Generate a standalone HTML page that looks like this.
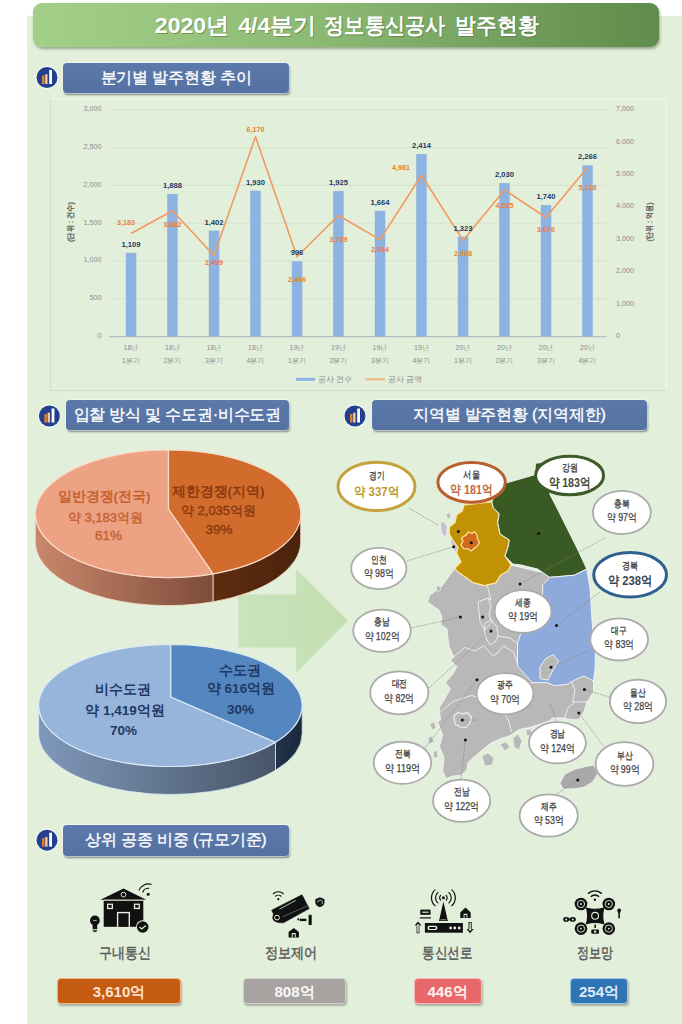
<!DOCTYPE html>
<html><head><meta charset="utf-8">
<style>
*{margin:0;padding:0;box-sizing:border-box}
html,body{width:682px;height:1024px;overflow:hidden;background:#fff;font-family:"Liberation Sans", sans-serif}
.abs{position:absolute}
#panel{left:27px;top:16px;width:655px;height:1008px;background:#E2EFDA}
#title{left:33px;top:3px;width:626px;height:44px;border-radius:9px;
 background:linear-gradient(to right,#A4CF88 0%,#8DBA73 45%,#5F8B4C 100%);
 box-shadow:1px 2px 3px rgba(60,80,50,0.45);color:#fff;font-weight:bold;font-size:22px;
 text-align:center;line-height:44px;letter-spacing:-0.3px;padding-right:3px;text-shadow:1px 1px 1px rgba(40,60,30,0.45)}
.hdr{position:absolute;height:30px;border-radius:4px;
 background:linear-gradient(to bottom,#5B79AA,#5471A2);box-shadow:0 0 0 1px rgba(255,255,255,0.45),1px 2px 2px rgba(30,40,60,0.5);
 color:#FFFFFF;font-size:16px;text-align:center;line-height:30px;letter-spacing:-0.2px;-webkit-text-stroke:0.35px #fff}
.lbl{position:absolute;top:944px;width:120px;text-align:center;font-size:14.5px;color:#595959;line-height:18px;letter-spacing:-1.6px;font-weight:bold}
.box{position:absolute;top:978px;height:26px;border-radius:4px;text-align:center;line-height:26px;
 font-size:15px;font-weight:bold;box-shadow:1px 2px 2px rgba(60,60,60,0.35)}
svg{position:absolute;left:0;top:0}
</style></head><body>
<div id="panel" class="abs"></div>
<div id="title" class="abs"></div>
<div class="hdr" style="left:63px;top:63px;width:226px;height:30.4px">분기별 발주현황 추이</div>
<div class="hdr" style="left:66px;top:400px;width:222.6px">입찰 방식 및 수도권·비수도권</div>
<div class="hdr" style="left:371.5px;top:400.2px;width:275.5px">지역별 발주현황 (지역제한)</div>
<div class="hdr" style="left:63.2px;top:825px;width:225.5px;height:30.5px;line-height:30.5px">상위 공종 비중 (규모기준)</div>
<svg width="682" height="1024" viewBox="0 0 682 1024" font-family='"Liberation Sans", sans-serif'>
<g transform="translate(47,77.5)"><circle r="11.5" fill="#fff" opacity="0.7"/><circle r="10.5" fill="#23408E"/><rect x="-5" y="-2" width="2.5" height="8.5" fill="#D9822B"/><rect x="-1.8" y="-3.3" width="2.3" height="9.8" fill="#F7CBA5"/><rect x="2.2" y="-7.5" width="2.8" height="14" fill="#FFFFFF"/></g><g transform="translate(49.4,416)"><circle r="11.5" fill="#fff" opacity="0.7"/><circle r="10.5" fill="#23408E"/><rect x="-5" y="-2" width="2.5" height="8.5" fill="#D9822B"/><rect x="-1.8" y="-3.3" width="2.3" height="9.8" fill="#F7CBA5"/><rect x="2.2" y="-7.5" width="2.8" height="14" fill="#FFFFFF"/></g><g transform="translate(355,416)"><circle r="11.5" fill="#fff" opacity="0.7"/><circle r="10.5" fill="#23408E"/><rect x="-5" y="-2" width="2.5" height="8.5" fill="#D9822B"/><rect x="-1.8" y="-3.3" width="2.3" height="9.8" fill="#F7CBA5"/><rect x="2.2" y="-7.5" width="2.8" height="14" fill="#FFFFFF"/></g><g transform="translate(47,840.2)"><circle r="11.5" fill="#fff" opacity="0.7"/><circle r="10.5" fill="#23408E"/><rect x="-5" y="-2" width="2.5" height="8.5" fill="#D9822B"/><rect x="-1.8" y="-3.3" width="2.3" height="9.8" fill="#F7CBA5"/><rect x="2.2" y="-7.5" width="2.8" height="14" fill="#FFFFFF"/></g>
<path d="M50.5,99 H666 V390.5" fill="none" stroke="#EEF5E9" stroke-width="1.6"/><path d="M50.5,99 V390.5 H666" fill="none" stroke="#D5DECD" stroke-width="1.2"/>
<line x1="109" y1="298.8" x2="607" y2="298.8" stroke="#D6E2CC" stroke-width="1"/>
<line x1="109" y1="261.0" x2="607" y2="261.0" stroke="#D6E2CC" stroke-width="1"/>
<line x1="109" y1="223.2" x2="607" y2="223.2" stroke="#D6E2CC" stroke-width="1"/>
<line x1="109" y1="185.4" x2="607" y2="185.4" stroke="#D6E2CC" stroke-width="1"/>
<line x1="109" y1="147.6" x2="607" y2="147.6" stroke="#D6E2CC" stroke-width="1"/>
<line x1="109" y1="109.8" x2="607" y2="109.8" stroke="#D6E2CC" stroke-width="1"/>
<line x1="109" y1="336.6" x2="607" y2="336.6" stroke="#BDBDBD" stroke-width="1.2"/>
<text x="101.5" y="337.9" text-anchor="end" font-size="7.2" fill="#8C8C8C">0</text>
<text x="101.5" y="300.1" text-anchor="end" font-size="7.2" fill="#8C8C8C">500</text>
<text x="101.5" y="262.3" text-anchor="end" font-size="7.2" fill="#8C8C8C">1,000</text>
<text x="101.5" y="224.5" text-anchor="end" font-size="7.2" fill="#8C8C8C">1,500</text>
<text x="101.5" y="186.7" text-anchor="end" font-size="7.2" fill="#8C8C8C">2,000</text>
<text x="101.5" y="148.9" text-anchor="end" font-size="7.2" fill="#8C8C8C">2,500</text>
<text x="101.5" y="111.1" text-anchor="end" font-size="7.2" fill="#8C8C8C">3,000</text>
<text x="616" y="337.9" font-size="7.2" fill="#8C8C8C">0</text>
<text x="616" y="305.5" font-size="7.2" fill="#8C8C8C">1,000</text>
<text x="616" y="273.1" font-size="7.2" fill="#8C8C8C">2,000</text>
<text x="616" y="240.7" font-size="7.2" fill="#8C8C8C">3,000</text>
<text x="616" y="208.3" font-size="7.2" fill="#8C8C8C">4,000</text>
<text x="616" y="175.9" font-size="7.2" fill="#8C8C8C">5,000</text>
<text x="616" y="143.5" font-size="7.2" fill="#8C8C8C">6,000</text>
<text x="616" y="111.1" font-size="7.2" fill="#8C8C8C">7,000</text>
<rect x="125.8" y="252.8" width="10.5" height="83.8" fill="#8DB3E2"/>
<rect x="167.2" y="193.9" width="10.5" height="142.7" fill="#8DB3E2"/>
<rect x="208.8" y="230.6" width="10.5" height="106.0" fill="#8DB3E2"/>
<rect x="250.2" y="190.7" width="10.5" height="145.9" fill="#8DB3E2"/>
<rect x="291.8" y="261.3" width="10.5" height="75.3" fill="#8DB3E2"/>
<rect x="333.2" y="191.1" width="10.5" height="145.5" fill="#8DB3E2"/>
<rect x="374.8" y="210.8" width="10.5" height="125.8" fill="#8DB3E2"/>
<rect x="416.2" y="154.1" width="10.5" height="182.5" fill="#8DB3E2"/>
<rect x="457.8" y="236.6" width="10.5" height="100.0" fill="#8DB3E2"/>
<rect x="499.2" y="183.1" width="10.5" height="153.5" fill="#8DB3E2"/>
<rect x="540.8" y="205.1" width="10.5" height="131.5" fill="#8DB3E2"/>
<rect x="582.2" y="165.3" width="10.5" height="171.3" fill="#8DB3E2"/>
<polyline points="131.0,233.5 172.5,210.8 214.0,255.6 255.5,136.7 297.0,256.7 338.5,215.5 380.0,239.6 421.5,175.2 463.0,240.4 504.5,190.0 546.0,217.5 587.5,167.5" fill="none" stroke="#F29A60" stroke-width="1.6" stroke-linejoin="round"/>
<text x="131.0" y="246.8" text-anchor="middle" font-size="7.6" font-weight="bold" fill="#1F3864">1,109</text>
<text x="172.5" y="187.9" text-anchor="middle" font-size="7.6" font-weight="bold" fill="#1F3864">1,888</text>
<text x="214.0" y="224.6" text-anchor="middle" font-size="7.6" font-weight="bold" fill="#1F3864">1,402</text>
<text x="255.5" y="184.7" text-anchor="middle" font-size="7.6" font-weight="bold" fill="#1F3864">1,930</text>
<text x="297.0" y="255.3" text-anchor="middle" font-size="7.6" font-weight="bold" fill="#1F3864">996</text>
<text x="338.5" y="185.1" text-anchor="middle" font-size="7.6" font-weight="bold" fill="#1F3864">1,925</text>
<text x="380.0" y="204.8" text-anchor="middle" font-size="7.6" font-weight="bold" fill="#1F3864">1,664</text>
<text x="421.5" y="148.1" text-anchor="middle" font-size="7.6" font-weight="bold" fill="#1F3864">2,414</text>
<text x="463.0" y="230.6" text-anchor="middle" font-size="7.6" font-weight="bold" fill="#1F3864">1,323</text>
<text x="504.5" y="177.1" text-anchor="middle" font-size="7.6" font-weight="bold" fill="#1F3864">2,030</text>
<text x="546.0" y="199.1" text-anchor="middle" font-size="7.6" font-weight="bold" fill="#1F3864">1,740</text>
<text x="587.5" y="159.3" text-anchor="middle" font-size="7.6" font-weight="bold" fill="#1F3864">2,266</text>
<text x="126.0" y="224.5" text-anchor="middle" font-size="7.2" font-weight="bold" fill="#ED7D31">3,183</text>
<text x="172.5" y="226.8" text-anchor="middle" font-size="7.2" font-weight="bold" fill="#ED7D31">3,882</text>
<text x="214.0" y="264.6" text-anchor="middle" font-size="7.2" font-weight="bold" fill="#ED7D31">2,499</text>
<text x="255.5" y="131.7" text-anchor="middle" font-size="7.2" font-weight="bold" fill="#ED7D31">6,170</text>
<text x="297.0" y="281.7" text-anchor="middle" font-size="7.2" font-weight="bold" fill="#ED7D31">2,466</text>
<text x="338.5" y="242.0" text-anchor="middle" font-size="7.2" font-weight="bold" fill="#ED7D31">3,739</text>
<text x="380.0" y="251.6" text-anchor="middle" font-size="7.2" font-weight="bold" fill="#ED7D31">2,994</text>
<text x="401.0" y="169.6" text-anchor="middle" font-size="7.2" font-weight="bold" fill="#ED7D31">4,981</text>
<text x="463.0" y="256.4" text-anchor="middle" font-size="7.2" font-weight="bold" fill="#ED7D31">2,968</text>
<text x="504.5" y="208.0" text-anchor="middle" font-size="7.2" font-weight="bold" fill="#ED7D31">4,525</text>
<text x="546.0" y="231.5" text-anchor="middle" font-size="7.2" font-weight="bold" fill="#ED7D31">3,676</text>
<text x="587.5" y="189.5" text-anchor="middle" font-size="7.2" font-weight="bold" fill="#ED7D31">5,218</text>
<text x="131.0" y="350.2" text-anchor="middle" font-size="7" fill="#8C8C8C">18년</text>
<text x="131.0" y="363" text-anchor="middle" font-size="7" fill="#8C8C8C">1분기</text>
<text x="172.5" y="350.2" text-anchor="middle" font-size="7" fill="#8C8C8C">18년</text>
<text x="172.5" y="363" text-anchor="middle" font-size="7" fill="#8C8C8C">2분기</text>
<text x="214.0" y="350.2" text-anchor="middle" font-size="7" fill="#8C8C8C">18년</text>
<text x="214.0" y="363" text-anchor="middle" font-size="7" fill="#8C8C8C">3분기</text>
<text x="255.5" y="350.2" text-anchor="middle" font-size="7" fill="#8C8C8C">18년</text>
<text x="255.5" y="363" text-anchor="middle" font-size="7" fill="#8C8C8C">4분기</text>
<text x="297.0" y="350.2" text-anchor="middle" font-size="7" fill="#8C8C8C">19년</text>
<text x="297.0" y="363" text-anchor="middle" font-size="7" fill="#8C8C8C">1분기</text>
<text x="338.5" y="350.2" text-anchor="middle" font-size="7" fill="#8C8C8C">19년</text>
<text x="338.5" y="363" text-anchor="middle" font-size="7" fill="#8C8C8C">2분기</text>
<text x="380.0" y="350.2" text-anchor="middle" font-size="7" fill="#8C8C8C">19년</text>
<text x="380.0" y="363" text-anchor="middle" font-size="7" fill="#8C8C8C">3분기</text>
<text x="421.5" y="350.2" text-anchor="middle" font-size="7" fill="#8C8C8C">19년</text>
<text x="421.5" y="363" text-anchor="middle" font-size="7" fill="#8C8C8C">4분기</text>
<text x="463.0" y="350.2" text-anchor="middle" font-size="7" fill="#8C8C8C">20년</text>
<text x="463.0" y="363" text-anchor="middle" font-size="7" fill="#8C8C8C">1분기</text>
<text x="504.5" y="350.2" text-anchor="middle" font-size="7" fill="#8C8C8C">20년</text>
<text x="504.5" y="363" text-anchor="middle" font-size="7" fill="#8C8C8C">2분기</text>
<text x="546.0" y="350.2" text-anchor="middle" font-size="7" fill="#8C8C8C">20년</text>
<text x="546.0" y="363" text-anchor="middle" font-size="7" fill="#8C8C8C">3분기</text>
<text x="587.5" y="350.2" text-anchor="middle" font-size="7" fill="#8C8C8C">20년</text>
<text x="587.5" y="363" text-anchor="middle" font-size="7" fill="#8C8C8C">4분기</text>
<line x1="296" y1="379.3" x2="315" y2="379.3" stroke="#8DB3E2" stroke-width="3"/>
<text x="318" y="382" font-size="7.5" fill="#8C8C8C">공사 건수</text>
<line x1="365.5" y1="379.3" x2="385" y2="379.3" stroke="#F4B183" stroke-width="2"/>
<text x="388" y="382" font-size="7.5" fill="#8C8C8C">공사 금액</text>
<text transform="translate(72.8,222) rotate(-90)" text-anchor="middle" font-size="8" fill="#555" stroke="#555" stroke-width="0.3" textLength="40" lengthAdjust="spacingAndGlyphs">(단위 : 건수)</text>
<text transform="translate(651.5,222) rotate(-90)" text-anchor="middle" font-size="8" fill="#555" stroke="#555" stroke-width="0.3" textLength="39" lengthAdjust="spacingAndGlyphs">(단위 : 억원)</text>
<defs><linearGradient id="arw" x1="0" x2="1"><stop offset="0" stop-color="#C9E3BA"/><stop offset="1" stop-color="#C3DFB1"/></linearGradient></defs><polygon points="238.3,594.6 296.2,594.6 296.2,568.8 347.9,620.6 296.2,673 296.2,647.4 238.3,647.4" fill="url(#arw)"/>
<defs><linearGradient id="p1l" x1="0" x2="1" y1="0" y2="0"><stop offset="0" stop-color="#C9876C"/><stop offset="1" stop-color="#7E4C3A"/></linearGradient><linearGradient id="p1d" x1="0" x2="1" y1="0" y2="0"><stop offset="0" stop-color="#5E2D10"/><stop offset="1" stop-color="#4A230C"/></linearGradient></defs>
<path d="M35.30000000000001,513.8 A132.7,63.8 0 0 0 213.2,573.8 L213.2,601.8 A132.7,63.8 0 0 1 35.30000000000001,541.8 Z" fill="url(#p1l)" stroke="#F8DCC8" stroke-width="0.8"/>
<path d="M213.2,573.8 A132.7,63.8 0 0 0 300.7,513.8 L300.7,541.8 A132.7,63.8 0 0 1 213.2,601.8 Z" fill="url(#p1d)" stroke="#F8DCC8" stroke-width="0.8"/>
<path d="M168.5,509 L168.5,450.00 A132.7,63.8 0 1 0 213.2,573.8 Z" fill="#EDA284" stroke="#F8DCC8" stroke-width="1.2" stroke-linejoin="round"/>
<path d="M168.5,509 L168.5,450.00 A132.7,63.8 0 0 1 213.2,573.8 Z" fill="#D26C2C" stroke="#F8DCC8" stroke-width="1.2" stroke-linejoin="round"/>
<defs><linearGradient id="p2l" x1="0" x2="1" y1="0" y2="0"><stop offset="0" stop-color="#7F98BA"/><stop offset="1" stop-color="#475568"/></linearGradient><linearGradient id="p2d" x1="0" x2="1" y1="0" y2="0"><stop offset="0" stop-color="#22344C"/><stop offset="1" stop-color="#1A2839"/></linearGradient></defs>
<path d="M38.599999999999994,705.5 A131.8,61 0 0 0 275.5,742.3 L275.5,770.3 A131.8,61 0 0 1 38.599999999999994,733.5 Z" fill="url(#p2l)" stroke="#DCEAF7" stroke-width="0.8"/>
<path d="M275.5,742.3 A131.8,61 0 0 0 302.20000000000005,705.5 L302.20000000000005,733.5 A131.8,61 0 0 1 275.5,770.3 Z" fill="url(#p2d)" stroke="#DCEAF7" stroke-width="0.8"/>
<path d="M170.8,697 L170.8,644.50 A131.8,61 0 1 0 275.5,742.3 Z" fill="#97B5DA" stroke="#DCEAF7" stroke-width="1.2" stroke-linejoin="round"/>
<path d="M170.8,697 L170.8,644.50 A131.8,61 0 0 1 275.5,742.3 Z" fill="#5487BF" stroke="#DCEAF7" stroke-width="1.2" stroke-linejoin="round"/>
<text x="104" y="501" text-anchor="middle" font-size="13.5" fill="#C4612F" font-weight="bold">일반경쟁(전국)</text>
<text x="105.5" y="522" text-anchor="middle" font-size="13" fill="#C4612F" stroke="#C4612F" stroke-width="0.4">약 3,183억원</text>
<text x="108.5" y="540" text-anchor="middle" font-size="13.5" fill="#C4612F" stroke="#C4612F" stroke-width="0.4">61%</text>
<text x="218" y="496" text-anchor="middle" font-size="13.5" fill="#8A3A10" font-weight="bold">제한경쟁(지역)</text>
<text x="218.5" y="514.5" text-anchor="middle" font-size="13" fill="#8A3A10" stroke="#8A3A10" stroke-width="0.4">약 2,035억원</text>
<text x="219" y="534" text-anchor="middle" font-size="13.5" fill="#8A3A10" stroke="#8A3A10" stroke-width="0.4">39%</text>
<text x="122.5" y="694" text-anchor="middle" font-size="13.5" fill="#1F3864" font-weight="bold">비수도권</text>
<text x="125" y="714.8" text-anchor="middle" font-size="13.5" fill="#1F3864" font-weight="bold">약 1,419억원</text>
<text x="123.5" y="735" text-anchor="middle" font-size="13.5" fill="#1F3864" font-weight="bold">70%</text>
<text x="240.2" y="674.8" text-anchor="middle" font-size="13.5" fill="#1F3864" font-weight="bold">수도권</text>
<text x="241" y="693.2" text-anchor="middle" font-size="13.5" fill="#1F3864" font-weight="bold">약 616억원</text>
<text x="240.5" y="713.8" text-anchor="middle" font-size="13.5" fill="#1F3864" font-weight="bold">30%</text>
<polygon points="455,568 447,579 442,586 429.4,595.5 427.7,602 434,606.8 439,610 442,618 440.6,624.5 447,629 448.7,645.5 453.5,656.8 450.3,660 456.8,666.5 453.5,673 445.5,682.6 450.3,689 444,700 439,708 440.6,719.7 437.7,722 442.6,735 439.4,746.5 444,757.7 442.6,770.6 445.8,778.7 453,776 460.3,775.5 466.8,770.6 468,762.6 474,757 481,751 491,743 500,739 509.7,735.8 519.4,729.4 529,727.7 548.4,721.3 553,718 564.5,718 571,719.7 579,719.7 583.9,711.6 587,702 593.5,692 593.5,681 595.5,652 592.7,629.7 590,588 588,572 561.4,577.4 529.4,569.4 511,565 508,571 500.6,575 496,582.6 484.5,585.6 472.8,582.6 462.5,575 456.7,571" fill="#B8B8B8" stroke="#F2F2F2" stroke-width="1" stroke-linejoin="round"/>
<polygon points="440,522.5 444,521.5 447,526 447,533 445,537.2 441.5,533" fill="#C4C4D0" stroke="#F2F2F2" stroke-width="0.8" stroke-linejoin="round"/>
<polygon points="451,537.5 455,537.5 458.5,542 458.5,550 457,553.7 453,549 450.5,543" fill="#C4C4D0" stroke="#F2F2F2" stroke-width="0.8" stroke-linejoin="round"/>
<polygon points="464,505 491.8,502 493.3,507.9 499.2,513.7 497.7,522.5 500,534 509.4,540 508,547.4 505,556 511,565 508,571 500.6,575 496,582.6 484.5,585.6 472.8,582.6 462.5,575 456.7,571 455,568 461,562 456.7,553 458,547.4 453.7,541.6 449.3,534 449.3,527 455,522.5 456.7,515 462.5,510.8" fill="#C19106" stroke="#FFE699" stroke-width="1.2" stroke-linejoin="round"/>
<polygon points="491.8,502 500,484 506.7,482.8 534.7,474.7 535.4,463.3 545,462 552,482 549.8,494 558,510 568,530 578,550 586.8,569 574.4,575.2 562,576.3 549.8,577.3 537.5,569 521,565 512.8,564 505,556 508,547.4 509.4,540 500,534 497.7,522.5 499.2,513.7 493.3,507.9" fill="#395A22" stroke="#F2F2F2" stroke-width="1" stroke-linejoin="round"/>
<polygon points="542.6,585 549.8,577.3 562,576.3 574.4,575.2 586.8,569 590,588 592.7,629.7 595.5,652 595,670 593.5,681 583.9,676 575.8,679.4 567.7,684.2 554.8,685.8 546.8,682.6 532.3,682.6 517.5,666 517.5,643.6 520.3,635 531.5,615.7 539.8,607 542.6,593.4" fill="#8EAADB" stroke="#F2F2F2" stroke-width="1" stroke-linejoin="round"/>
<polygon points="540,666.7 545.4,658.7 553.4,654.7 558.7,661.4 553.4,669.4 548,680 540,678.7" fill="#B8B8B8" stroke="#F2F2F2" stroke-width="1" stroke-linejoin="round"/>
<polygon points="466,535 468.5,532 472,533.5 474.5,531.5 477,535 477.5,539 479.5,542.5 477.5,546 474,548.5 471,551 467.5,548.5 464,549 461,545 463,541 461.5,538" fill="#D2691E" stroke="#FFE699" stroke-width="1.2" stroke-linejoin="round"/>
<polygon points="560,783 564.8,774.2 574.5,769.4 587.4,766.1 593.9,765.5 597.9,773.5 592.3,782.3 584.2,787.1 574.5,788.7 563.2,789" fill="#A9A9A9" stroke="#F2F2F2" stroke-width="0.8" stroke-linejoin="round"/>
<polygon points="482,756 488,753 494,758 492,765 485,766" fill="#B8B8B8" stroke="#F2F2F2" stroke-width="0.6" stroke-linejoin="round"/>
<polygon points="500,744 506,742 510,747 505,751" fill="#B8B8B8" stroke="#F2F2F2" stroke-width="0.6" stroke-linejoin="round"/>
<polygon points="513,738 518,734 522,741 519,750 514,747" fill="#B8B8B8" stroke="#F2F2F2" stroke-width="0.6" stroke-linejoin="round"/>
<polygon points="430,724 434,722 436,728 432,730" fill="#B8B8B8" stroke="#F2F2F2" stroke-width="0.6" stroke-linejoin="round"/>
<polygon points="428,738 432,736 434,742 429,744" fill="#B8B8B8" stroke="#F2F2F2" stroke-width="0.6" stroke-linejoin="round"/>
<polygon points="433,752 437,750 438,757 434,758" fill="#B8B8B8" stroke="#F2F2F2" stroke-width="0.6" stroke-linejoin="round"/>
<polygon points="436,588 439,585 441,590 438,592" fill="#B8B8B8" stroke="#F2F2F2" stroke-width="0.6" stroke-linejoin="round"/>
<polygon points="446,515 449,512 451,517 448,519" fill="#B8B8B8" stroke="#F2F2F2" stroke-width="0.6" stroke-linejoin="round"/>
<polygon points="526,730 531,729 532,735 527,736" fill="#B8B8B8" stroke="#F2F2F2" stroke-width="0.6" stroke-linejoin="round"/>
<polyline points="450.6,659.7 464.6,647.4 475.2,651 484,645.7 492.8,656.2 498,652.7 503.3,645.7 514,652.7 517.5,664" fill="none" stroke="#F2F2F2" stroke-width="0.9" stroke-linejoin="round"/>
<polyline points="437.7,714 453,701.6 471.6,695.4 490,702 502,710.8 508.5,720 511.6,732" fill="none" stroke="#F2F2F2" stroke-width="0.9" stroke-linejoin="round"/>
<polyline points="502,710.8 510,695 517.8,683 533,683" fill="none" stroke="#F2F2F2" stroke-width="0.9" stroke-linejoin="round"/>
<polyline points="487.5,586 491,600 488,598 478,602 480,622 485,630 492,622 489,615 491,606 488,598" fill="none" stroke="#F2F2F2" stroke-width="0.9" stroke-linejoin="round"/>
<polyline points="498,636 510,638 517.5,643.6" fill="none" stroke="#F2F2F2" stroke-width="0.9" stroke-linejoin="round"/>
<polyline points="571,681 575,690 572.6,702 587,702" fill="none" stroke="#F2F2F2" stroke-width="0.9" stroke-linejoin="round"/>
<polyline points="564.5,718 568,708 575,702" fill="none" stroke="#F2F2F2" stroke-width="0.9" stroke-linejoin="round"/>
<polyline points="454,716 458,712.5 463,714 467,712.5 471.5,717 470,723 466,727.5 460,727 455,724 454,716" fill="none" stroke="#F2F2F2" stroke-width="1.1" stroke-linejoin="round"/>
<polyline points="485,623 491,620 497,627 498,636 495,642 490,645 486,638 484,630 485,623" fill="none" stroke="#F2F2F2" stroke-width="0.9" stroke-linejoin="round"/>
<line x1="409" y1="508" x2="438.7" y2="525.5" stroke="#7F7F7F" stroke-width="0.7" stroke-dasharray="1.5,1.2"/>
<line x1="407" y1="561" x2="453.7" y2="546.7" stroke="#7F7F7F" stroke-width="0.7" stroke-dasharray="1.5,1.2"/>
<line x1="605" y1="538" x2="520" y2="584" stroke="#7F7F7F" stroke-width="0.7" stroke-dasharray="1.5,1.2"/>
<line x1="600" y1="592" x2="556.5" y2="625.5" stroke="#7F7F7F" stroke-width="0.7" stroke-dasharray="1.5,1.2"/>
<line x1="411" y1="628" x2="460.4" y2="617" stroke="#7F7F7F" stroke-width="0.7" stroke-dasharray="1.5,1.2"/>
<line x1="429" y1="688" x2="491" y2="631" stroke="#7F7F7F" stroke-width="0.7" stroke-dasharray="1.5,1.2"/>
<line x1="425" y1="748" x2="477" y2="680" stroke="#7F7F7F" stroke-width="0.7" stroke-dasharray="1.5,1.2"/>
<line x1="461" y1="779" x2="465.4" y2="740" stroke="#7F7F7F" stroke-width="0.7" stroke-dasharray="1.5,1.2"/>
<line x1="590" y1="650" x2="551" y2="667.3" stroke="#7F7F7F" stroke-width="0.7" stroke-dasharray="1.5,1.2"/>
<line x1="609" y1="697" x2="584.4" y2="689.6" stroke="#7F7F7F" stroke-width="0.7" stroke-dasharray="1.5,1.2"/>
<line x1="605" y1="748" x2="578.8" y2="713" stroke="#7F7F7F" stroke-width="0.7" stroke-dasharray="1.5,1.2"/>
<line x1="557" y1="723" x2="550" y2="704" stroke="#7F7F7F" stroke-width="0.7" stroke-dasharray="1.5,1.2"/>
<line x1="555" y1="795" x2="577.8" y2="780" stroke="#7F7F7F" stroke-width="0.7" stroke-dasharray="1.5,1.2"/>
<line x1="476" y1="720" x2="462.3" y2="720" stroke="#7F7F7F" stroke-width="0.7" stroke-dasharray="1.5,1.2"/>
<circle cx="458.4" cy="531.6" r="1.5" fill="#111"/>
<circle cx="471.3" cy="542.8" r="1.5" fill="#111"/>
<circle cx="453.7" cy="546.7" r="1.5" fill="#111"/>
<circle cx="538.7" cy="533.4" r="1.5" fill="#111"/>
<circle cx="520" cy="584" r="1.5" fill="#111"/>
<circle cx="556.5" cy="625.5" r="1.5" fill="#111"/>
<circle cx="460.4" cy="617" r="1.5" fill="#111"/>
<circle cx="482.7" cy="617" r="1.5" fill="#111"/>
<circle cx="491" cy="631" r="1.5" fill="#111"/>
<circle cx="551" cy="667.3" r="1.5" fill="#111"/>
<circle cx="477" cy="679.8" r="1.5" fill="#111"/>
<circle cx="584.4" cy="689.6" r="1.5" fill="#111"/>
<circle cx="578.8" cy="713" r="1.5" fill="#111"/>
<circle cx="462.3" cy="720" r="1.5" fill="#111"/>
<circle cx="465.4" cy="740" r="1.5" fill="#111"/>
<circle cx="577.8" cy="780" r="1.5" fill="#111"/>
<ellipse cx="376.5" cy="486.4" rx="38.5" ry="24.2" fill="#FFFFFF" stroke="#C5A23C" stroke-width="3"/>
<text x="376.5" y="478.9" text-anchor="middle" font-size="9.5" font-weight="bold" fill="#4A4A4A" textLength="15.5" lengthAdjust="spacingAndGlyphs">경기</text>
<text x="376.5" y="496.2" text-anchor="middle" font-size="13" font-weight="bold" fill="#BF9B30" textLength="45" lengthAdjust="spacingAndGlyphs">약 337억</text>
<ellipse cx="471.6" cy="482.3" rx="33.7" ry="19.9" fill="#FFFFFF" stroke="#B95E2E" stroke-width="3"/>
<text x="471.6" y="477.7" text-anchor="middle" font-size="9.5" font-weight="bold" fill="#4A4A4A" textLength="16.5" lengthAdjust="spacingAndGlyphs">서울</text>
<text x="471.6" y="494.4" text-anchor="middle" font-size="13" font-weight="bold" fill="#C06A42" textLength="42.5" lengthAdjust="spacingAndGlyphs">약 181억</text>
<ellipse cx="569.6" cy="475.5" rx="34.0" ry="19.3" fill="#FFFFFF" stroke="#3D5A2A" stroke-width="3"/>
<text x="569.6" y="471.2" text-anchor="middle" font-size="9.5" font-weight="bold" fill="#4A4A4A" textLength="16" lengthAdjust="spacingAndGlyphs">강원</text>
<text x="569.6" y="487.1" text-anchor="middle" font-size="13" font-weight="bold" fill="#3F4A38" textLength="42" lengthAdjust="spacingAndGlyphs">약 183억</text>
<ellipse cx="630.1" cy="574.8" rx="36.4" ry="22.2" fill="#FFFFFF" stroke="#2F5F90" stroke-width="3"/>
<text x="630.1" y="568.6" text-anchor="middle" font-size="9.5" font-weight="bold" fill="#4A4A4A" textLength="16" lengthAdjust="spacingAndGlyphs">경북</text>
<text x="630.1" y="585.2" text-anchor="middle" font-size="13" font-weight="bold" fill="#394758" textLength="44.5" lengthAdjust="spacingAndGlyphs">약 238억</text>
<ellipse cx="621.85" cy="512.5" rx="28.900000000000002" ry="21.6" fill="#FFFFFF" stroke="#ABABAB" stroke-width="1.8"/>
<text x="621.85" y="507.1" text-anchor="middle" font-size="9.5" font-weight="bold" fill="#4A4A4A" textLength="15.5" lengthAdjust="spacingAndGlyphs">충북</text>
<text x="621.85" y="521.4" text-anchor="middle" font-size="11" fill="#404040" stroke="#404040" stroke-width="0.25" textLength="30" lengthAdjust="spacingAndGlyphs">약 97억</text>
<ellipse cx="378.8" cy="568.5" rx="27.6" ry="20.6" fill="#FFFFFF" stroke="#ABABAB" stroke-width="1.8"/>
<text x="378.8" y="563.1" text-anchor="middle" font-size="9.5" font-weight="bold" fill="#4A4A4A" textLength="15.5" lengthAdjust="spacingAndGlyphs">인천</text>
<text x="378.8" y="577.4" text-anchor="middle" font-size="11" fill="#404040" stroke="#404040" stroke-width="0.25" textLength="30" lengthAdjust="spacingAndGlyphs">약 98억</text>
<ellipse cx="382" cy="630.8" rx="28.8" ry="21.1" fill="#FFFFFF" stroke="#ABABAB" stroke-width="1.8"/>
<text x="382" y="625.4" text-anchor="middle" font-size="9.5" font-weight="bold" fill="#4A4A4A" textLength="15.5" lengthAdjust="spacingAndGlyphs">충남</text>
<text x="382" y="639.7" text-anchor="middle" font-size="11" fill="#404040" stroke="#404040" stroke-width="0.25" textLength="35" lengthAdjust="spacingAndGlyphs">약 102억</text>
<ellipse cx="523" cy="611.5" rx="28.400000000000002" ry="21.400000000000002" fill="#FFFFFF" stroke="#ABABAB" stroke-width="1.8"/>
<text x="523" y="606.1" text-anchor="middle" font-size="9.5" font-weight="bold" fill="#4A4A4A" textLength="15.5" lengthAdjust="spacingAndGlyphs">세종</text>
<text x="523" y="620.4" text-anchor="middle" font-size="11" fill="#404040" stroke="#404040" stroke-width="0.25" textLength="30" lengthAdjust="spacingAndGlyphs">약 19억</text>
<ellipse cx="399.3" cy="692.8" rx="29.1" ry="21.5" fill="#FFFFFF" stroke="#ABABAB" stroke-width="1.8"/>
<text x="399.3" y="687.4" text-anchor="middle" font-size="9.5" font-weight="bold" fill="#4A4A4A" textLength="15.5" lengthAdjust="spacingAndGlyphs">대전</text>
<text x="399.3" y="701.7" text-anchor="middle" font-size="11" fill="#404040" stroke="#404040" stroke-width="0.25" textLength="30" lengthAdjust="spacingAndGlyphs">약 82억</text>
<ellipse cx="505" cy="693.7" rx="28.400000000000002" ry="20.6" fill="#FFFFFF" stroke="#ABABAB" stroke-width="1.8"/>
<text x="505" y="688.3" text-anchor="middle" font-size="9.5" font-weight="bold" fill="#4A4A4A" textLength="15.5" lengthAdjust="spacingAndGlyphs">광주</text>
<text x="505" y="702.6" text-anchor="middle" font-size="11" fill="#404040" stroke="#404040" stroke-width="0.25" textLength="30" lengthAdjust="spacingAndGlyphs">약 70억</text>
<ellipse cx="619.2" cy="639.4" rx="28.900000000000002" ry="21.1" fill="#FFFFFF" stroke="#ABABAB" stroke-width="1.8"/>
<text x="619.2" y="634.0" text-anchor="middle" font-size="9.5" font-weight="bold" fill="#4A4A4A" textLength="15.5" lengthAdjust="spacingAndGlyphs">대구</text>
<text x="619.2" y="648.3" text-anchor="middle" font-size="11" fill="#404040" stroke="#404040" stroke-width="0.25" textLength="30" lengthAdjust="spacingAndGlyphs">약 83억</text>
<ellipse cx="638" cy="701.4" rx="28.1" ry="21.8" fill="#FFFFFF" stroke="#ABABAB" stroke-width="1.8"/>
<text x="638" y="696.0" text-anchor="middle" font-size="9.5" font-weight="bold" fill="#4A4A4A" textLength="15.5" lengthAdjust="spacingAndGlyphs">울산</text>
<text x="638" y="710.3" text-anchor="middle" font-size="11" fill="#404040" stroke="#404040" stroke-width="0.25" textLength="30" lengthAdjust="spacingAndGlyphs">약 28억</text>
<ellipse cx="402.5" cy="762.7" rx="28.8" ry="21.1" fill="#FFFFFF" stroke="#ABABAB" stroke-width="1.8"/>
<text x="402.5" y="757.3" text-anchor="middle" font-size="9.5" font-weight="bold" fill="#4A4A4A" textLength="15.5" lengthAdjust="spacingAndGlyphs">전북</text>
<text x="402.5" y="771.6" text-anchor="middle" font-size="11" fill="#404040" stroke="#404040" stroke-width="0.25" textLength="35" lengthAdjust="spacingAndGlyphs">약 119억</text>
<ellipse cx="557.4" cy="742.8" rx="28.5" ry="20.6" fill="#FFFFFF" stroke="#ABABAB" stroke-width="1.8"/>
<text x="557.4" y="737.4" text-anchor="middle" font-size="9.5" font-weight="bold" fill="#4A4A4A" textLength="15.5" lengthAdjust="spacingAndGlyphs">경남</text>
<text x="557.4" y="751.7" text-anchor="middle" font-size="11" fill="#404040" stroke="#404040" stroke-width="0.25" textLength="35" lengthAdjust="spacingAndGlyphs">약 124억</text>
<ellipse cx="461.6" cy="800.8" rx="28.6" ry="21.1" fill="#FFFFFF" stroke="#ABABAB" stroke-width="1.8"/>
<text x="461.6" y="795.4" text-anchor="middle" font-size="9.5" font-weight="bold" fill="#4A4A4A" textLength="15.5" lengthAdjust="spacingAndGlyphs">전남</text>
<text x="461.6" y="809.7" text-anchor="middle" font-size="11" fill="#404040" stroke="#404040" stroke-width="0.25" textLength="35" lengthAdjust="spacingAndGlyphs">약 122억</text>
<ellipse cx="624.5" cy="764" rx="28.900000000000002" ry="21.8" fill="#FFFFFF" stroke="#ABABAB" stroke-width="1.8"/>
<text x="624.5" y="758.6" text-anchor="middle" font-size="9.5" font-weight="bold" fill="#4A4A4A" textLength="15.5" lengthAdjust="spacingAndGlyphs">부산</text>
<text x="624.5" y="772.9" text-anchor="middle" font-size="11" fill="#404040" stroke="#404040" stroke-width="0.25" textLength="30" lengthAdjust="spacingAndGlyphs">약 99억</text>
<ellipse cx="548.7" cy="815.5" rx="29.1" ry="21.1" fill="#FFFFFF" stroke="#ABABAB" stroke-width="1.8"/>
<text x="548.7" y="810.1" text-anchor="middle" font-size="9.5" font-weight="bold" fill="#4A4A4A" textLength="15.5" lengthAdjust="spacingAndGlyphs">제주</text>
<text x="548.7" y="824.4" text-anchor="middle" font-size="11" fill="#404040" stroke="#404040" stroke-width="0.25" textLength="30" lengthAdjust="spacingAndGlyphs">약 53억</text>
<g fill="#111"><path d="M100.4,899.8 L123.5,888.6 L146.2,899.8 Z"/><rect x="103.7" y="900.6" width="39.6" height="26.2"/><rect x="103.7" y="899.6" width="39.6" height="1" fill="#E2EFDA" opacity="0.7"/><rect x="116.9" y="911.9" width="13.1" height="15" fill="#E2EFDA"/><rect x="118.3" y="913.3" width="10.3" height="13.6" fill="#111"/><rect x="107" y="903.6" width="6" height="5.5" fill="#E2EFDA"/><rect x="108.3" y="904.9" width="3.4" height="2.9" fill="#111"/><rect x="133.9" y="903.6" width="6" height="5.5" fill="#E2EFDA"/><rect x="135.2" y="904.9" width="3.4" height="2.9" fill="#111"/><circle cx="123.5" cy="894.6" r="2.4" fill="none" stroke="#E2EFDA" stroke-width="0.9"/><circle cx="142.7" cy="927" r="6.8" fill="#E2EFDA"/><circle cx="142.7" cy="927" r="5.8"/><path d="M139.5,927 l2.3,2 l4,-3.5" fill="none" stroke="#E2EFDA" stroke-width="1.2"/><circle cx="94.9" cy="920.5" r="4.9"/><rect x="92.6" y="923.5" width="4.6" height="5.5"/><rect x="93" y="920" width="3.8" height="0.9" fill="#E2EFDA" opacity="0.7"/><rect x="92.6" y="929.8" width="4.6" height="0.9"/><rect x="93.3" y="931.2" width="3.2" height="0.9"/><circle cx="148.2" cy="894.3" r="1.5"/><path d="M142.6,892.5 a6,6 0 0 1 6.6,-4.2" fill="none" stroke="#111" stroke-width="1.2"/><path d="M139,890.5 a10,10 0 0 1 12.5,-6" fill="none" stroke="#111" stroke-width="1.2"/></g>
<g fill="#111"><path d="M271.7,910.2 L302,894.8 L309.2,908.6 L283.5,922.8 L277.5,922.5 Z" stroke="#111" stroke-width="0.6" stroke-linejoin="round"/><path d="M279.4,909.1 L295.8,900.4" stroke="#E2EFDA" stroke-width="0.9" fill="none" opacity="0.85"/><path d="M282.5,916.8 L307.5,905.8" stroke="#E2EFDA" stroke-width="0.6" fill="none" opacity="0.6"/><circle cx="277" cy="917.6" r="4.6"/><circle cx="277" cy="917.6" r="2.4" fill="none" stroke="#E2EFDA" stroke-width="1"/><circle cx="298.4" cy="919.4" r="1.1"/><rect x="299.9" y="918.7" width="6.5" height="2.4"/><rect x="308.6" y="914.8" width="3.1" height="10.2"/><path d="M288.6,932 L293.8,928.1 L298.9,932 L298.9,937.4 L288.6,937.4 Z"/><rect x="291.7" y="933" width="4" height="4.4" fill="#E2EFDA"/><rect x="292.7" y="934.2" width="2" height="3.2" fill="#111"/><path d="M315.3,899.3 L319.9,897.3 L324.5,899.3 L324.5,902.3 Q324.5,905.8 319.9,907.2 Q315.3,905.8 315.3,902.3 Z"/><path d="M317.8,902.5 a2.3,2.3 0 1 1 3.5,1.8" fill="none" stroke="#E2EFDA" stroke-width="0.8"/><circle cx="278.3" cy="899.2" r="1.1"/><path d="M275.3,896.5 a4.3,4.3 0 0 1 6,0" fill="none" stroke="#111" stroke-width="1.1"/><path d="M273,894 a7.5,7.5 0 0 1 10.6,0" fill="none" stroke="#111" stroke-width="1.1"/></g>
<g fill="#111"><path d="M443.4,901.5 L447.8,921 L439,921 Z"/><rect x="440.5" y="919.3" width="5.8" height="1" fill="#E2EFDA" opacity="0.6"/><circle cx="443.4" cy="897.8" r="1.5"/><rect x="424.9" y="923" width="38" height="9.7"/><rect x="427.6" y="925.8" width="9.6" height="4.2" rx="1.5" fill="#E2EFDA"/><rect x="429" y="926.9" width="6.8" height="2" rx="0.8" fill="#111"/><circle cx="450.6" cy="928" r="1.4" fill="#E2EFDA"/><circle cx="454.8" cy="928" r="1.4" fill="#E2EFDA"/><circle cx="459.2" cy="928" r="1.4" fill="#E2EFDA"/><rect x="420.3" y="909.6" width="10.2" height="5.2"/><rect x="422.3" y="911.6" width="6.2" height="1.2" fill="#E2EFDA"/><rect x="419.8" y="917.3" width="11.2" height="1.2"/><path d="M460.3,912.5 L465.5,907.6 L470.7,912.5 L470.7,918 L460.3,918 Z"/><rect x="463.6" y="913.8" width="3.8" height="4.2" fill="#E2EFDA"/><rect x="464.5" y="915" width="2" height="3" fill="#111"/><path d="M418,921.4 l-3.4,4.2 h2 v7.7 h2.8 v-7.7 h2 z"/><path d="M418,923.8 l-1.6,2 h0.9 v6.6 h1.4 v-6.6 h0.9 z" fill="#E2EFDA"/><path d="M470.1,933.3 l-3.6,-4.2 h2 v-7.1 h3.2 v7.1 h2 z"/><path d="M470.1,931 l-1.7,-2 h1 v-6.2 h1.4 v6.2 h1 z" fill="#E2EFDA"/><g fill="none" stroke="#111" stroke-width="1.2"><path d="M441,895 a3.5,3.5 0 0 0 0,5.6"/><path d="M445.8,895 a3.5,3.5 0 0 1 0,5.6"/><path d="M438.2,892.3 a7,7 0 0 0 0,11"/><path d="M448.6,892.3 a7,7 0 0 1 0,11"/><path d="M435.4,889.6 a10.5,10.5 0 0 0 0,16.4"/><path d="M451.4,889.6 a10.5,10.5 0 0 1 0,16.4"/></g></g>
<g fill="#111"><path d="M586.5,908 Q595.1,910.5 603.8,908 Q601.5,915.8 603.8,923.6 Q595.1,921.2 586.5,923.6 Q588.8,915.8 586.5,908 Z" stroke="#111" stroke-width="1.2" stroke-linejoin="round"/><circle cx="595.1" cy="915.8" r="3.4" fill="none" stroke="#E2EFDA" stroke-width="1.1"/><circle cx="581" cy="904" r="6.3"/><circle cx="608.8" cy="904" r="6.3"/><circle cx="581" cy="928.6" r="6.3"/><circle cx="608.8" cy="928.6" r="6.3"/><g fill="none" stroke="#E2EFDA" stroke-width="0.9"><circle cx="581" cy="904" r="3.6"/><circle cx="608.8" cy="904" r="3.6"/><circle cx="581" cy="928.6" r="3.6"/><circle cx="608.8" cy="928.6" r="3.6"/></g><g fill="#E2EFDA"><circle cx="581" cy="904" r="0.9"/><circle cx="608.8" cy="904" r="0.9"/><circle cx="581" cy="928.6" r="0.9"/><circle cx="608.8" cy="928.6" r="0.9"/></g><rect x="594.4" y="924.5" width="1.5" height="3.5"/><rect x="591.3" y="929.5" width="7.7" height="4.3" rx="1"/><circle cx="595.1" cy="931.6" r="1.2" fill="#E2EFDA"/><ellipse cx="566.2" cy="919.4" rx="3" ry="2.3"/><ellipse cx="572.8" cy="919.4" rx="3" ry="2.3"/><rect x="566" y="918.4" width="6.5" height="2"/><circle cx="566.2" cy="919.4" r="1" fill="#E2EFDA"/><circle cx="572.8" cy="919.4" r="1" fill="#E2EFDA"/><path d="M617.3,911 a1.9,1.9 0 1 1 3.6,0 l-1,2.2 v5 h-1.6 v-5 z"/><circle cx="594.9" cy="899.8" r="1.2"/><path d="M590.8,896.8 a5.5,5.5 0 0 1 8.2,0" fill="none" stroke="#111" stroke-width="1.4"/><path d="M588,893.8 a9.5,9.5 0 0 1 13.8,0" fill="none" stroke="#111" stroke-width="1.4"/></g>
<text x="124.5" y="957.5" text-anchor="middle" font-size="14.5" fill="#595959" stroke="#595959" stroke-width="0.45" textLength="52" lengthAdjust="spacingAndGlyphs">구내통신</text>
<text x="291" y="957.5" text-anchor="middle" font-size="14.5" fill="#595959" stroke="#595959" stroke-width="0.45" textLength="52.5" lengthAdjust="spacingAndGlyphs">정보제어</text>
<text x="447.5" y="957.5" text-anchor="middle" font-size="14.5" fill="#595959" stroke="#595959" stroke-width="0.45" textLength="50.3" lengthAdjust="spacingAndGlyphs">통신선로</text>
<text x="594.7" y="957.5" text-anchor="middle" font-size="14.5" fill="#595959" stroke="#595959" stroke-width="0.45" textLength="36.2" lengthAdjust="spacingAndGlyphs">정보망</text>
<text x="155.8" y="34" font-size="22" font-weight="bold" fill="#3C5A2E" fill-opacity="0.45" textLength="74.5" lengthAdjust="spacingAndGlyphs">2020년</text>
<text x="154.8" y="33" font-size="22" font-weight="bold" fill="#FFFFFF" textLength="74.5" lengthAdjust="spacingAndGlyphs">2020년</text>
<text x="239.3" y="34" font-size="22" font-weight="bold" fill="#3C5A2E" fill-opacity="0.45" textLength="78.19999999999999" lengthAdjust="spacingAndGlyphs">4/4분기</text>
<text x="238.3" y="33" font-size="22" font-weight="bold" fill="#FFFFFF" textLength="78.19999999999999" lengthAdjust="spacingAndGlyphs">4/4분기</text>
<text x="325.40000000000003" y="34" font-size="22" font-weight="bold" fill="#3C5A2E" fill-opacity="0.45" textLength="120.39999999999998" lengthAdjust="spacingAndGlyphs">정보통신공사</text>
<text x="324.40000000000003" y="33" font-size="22" font-weight="bold" fill="#FFFFFF" textLength="120.39999999999998" lengthAdjust="spacingAndGlyphs">정보통신공사</text>
<text x="456.2" y="34" font-size="22" font-weight="bold" fill="#3C5A2E" fill-opacity="0.45" textLength="83.10000000000002" lengthAdjust="spacingAndGlyphs">발주현황</text>
<text x="455.2" y="33" font-size="22" font-weight="bold" fill="#FFFFFF" textLength="83.10000000000002" lengthAdjust="spacingAndGlyphs">발주현황</text>
</svg>

<div class="box" style="left:57px;width:124px;background:#C55A11;color:#FCE4D0;border:1px solid #F4B183">3,610억</div>
<div class="box" style="left:243px;width:103px;background:#A6A3A1;color:#F8F8F8;border:1px solid #D0CECE">808억</div>
<div class="box" style="left:413.5px;width:68px;background:#E9686A;color:#FFF2F2;border:1px solid #F8B8B8">446억</div>
<div class="box" style="left:570px;width:58px;background:#2E75B6;color:#DEEBF7;border:1px solid #9DC3E6">254억</div>
</body></html>
